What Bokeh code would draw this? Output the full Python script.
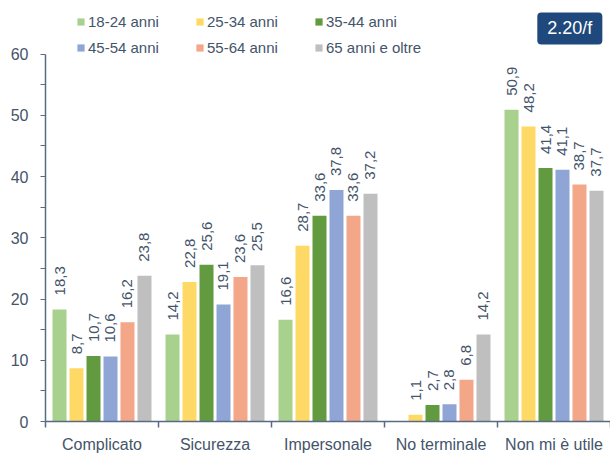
import math
from bokeh.plotting import figure
from bokeh.models import ColumnDataSource, FixedTicker, Legend, LegendItem, Label
from bokeh.core.properties import value
from bokeh.embed import file_html
from bokeh.resources import INLINE

# ---- data ----
categories = ["Complicato", "Sicurezza", "Impersonale", "No terminale", "Non mi è utile"]
series = ["18-24 anni", "25-34 anni", "35-44 anni", "45-54 anni", "55-64 anni", "65 anni e oltre"]
v_18_24 = [18.3, 14.2, 16.6, None, 50.9]
v_25_34 = [8.7, 22.8, 28.7, 1.1, 48.2]
v_35_44 = [10.7, 25.6, 33.6, 2.7, 41.4]
v_45_54 = [10.6, 19.1, 37.8, 2.8, 41.1]
v_55_64 = [16.2, 23.6, 33.6, 6.8, 38.7]
v_65_plus = [23.8, 25.5, 37.2, 14.2, 37.7]
all_values = [v_18_24, v_25_34, v_35_44, v_45_54, v_55_64, v_65_plus]
y_ticks = [0, 10, 20, 30, 40, 50, 60]
y_minor = [5, 15, 25, 35, 45, 55]
badge_text = "2.20/f"

colors = ["#A9D18E", "#FFD966", "#629B3F", "#8FA5D6", "#F4A688", "#BFBFBF"]
FONT = "Liberation Sans"
TXT = "#44546A"
AXIS = "#5A6A82"

pitch = 0.1504
bar_w = 0.124

p = figure(width=610, height=455, x_range=(0, 5.0), y_range=(0, 68.76),
           output_backend="svg", toolbar_location=None,
           min_border_left=45, min_border_right=0, min_border_top=0, min_border_bottom=31)
p.outline_line_color = None
p.xgrid.grid_line_color = None
p.ygrid.grid_line_color = None
p.background_fill_color = "white"

items = []
for j, (name, vals) in enumerate(zip(series, all_values)):
    xs, tops, labels = [], [], []
    for i, v in enumerate(vals):
        if v is None:
            continue
        xs.append(i + 0.5 + (j - 2.5) * pitch)
        tops.append(v)
        labels.append(("%.1f" % v).replace(".", ","))
    src = ColumnDataSource(dict(x=xs, top=tops, label=labels))
    r = p.vbar(x="x", top="top", width=bar_w, source=src, fill_color=colors[j], line_color=None)
    p.text(x="x", y="top", text="label", source=src, angle=math.pi / 2,
           text_align="left", text_baseline="middle", y_offset=-14,
           text_font=value(FONT), text_font_size="15px", text_color=TXT)
    items.append(LegendItem(label=name, renderers=[r]))

# axes
xa = p.xaxis[0]
xa.ticker = FixedTicker(ticks=[i + 0.5 for i in range(len(categories))],
                        minor_ticks=list(range(len(categories) + 1)))
xa.major_label_overrides = {i + 0.5: c for i, c in enumerate(categories)}
xa.major_tick_in = 0
xa.major_tick_out = 0
xa.minor_tick_in = 0
xa.minor_tick_out = 6
xa.major_label_standoff = 8
xa.axis_label_standoff = 0
xa.axis_line_color = AXIS
xa.axis_line_width = 1.5
xa.minor_tick_line_color = AXIS
xa.minor_tick_line_width = 1.5
xa.major_label_text_font = FONT
xa.major_label_text_font_size = "16px"
xa.major_label_text_color = TXT

ya = p.yaxis[0]
ya.ticker = FixedTicker(ticks=y_ticks, minor_ticks=y_minor)
ya.bounds = (0, 60)
ya.major_tick_in = 0
ya.major_tick_out = 5
ya.minor_tick_in = 0
ya.minor_tick_out = 5
ya.major_label_standoff = 12
ya.axis_label_standoff = 0
ya.axis_line_color = AXIS
ya.axis_line_width = 1.5
ya.major_tick_line_color = AXIS
ya.minor_tick_line_color = AXIS
ya.major_label_text_font = FONT
ya.major_label_text_font_size = "16px"
ya.major_label_text_color = TXT

legend = Legend(items=items, location=(31, 364), orientation="horizontal", ncols=3,
                glyph_width=9, glyph_height=9, label_standoff=3, label_width=101,
                label_height=20, spacing=6, padding=0, margin=0,
                label_text_font=FONT, label_text_font_size="15px", label_text_color=TXT,
                border_line_color=None, background_fill_alpha=0)
p.add_layout(legend)

badge = Label(x=4.64, y=64.2, text=badge_text, text_align="center", text_baseline="middle",
              text_font=FONT, text_font_size="18px", text_color="white",
              background_fill_color="#1F497D", border_line_color=None,
              padding=(10, 6), border_radius=4)
p.add_layout(badge)

open("out.html", "w").write(file_html(p, INLINE))
